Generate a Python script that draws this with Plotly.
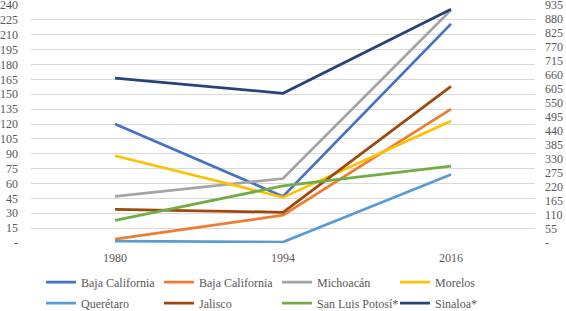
import plotly.graph_objects as go

years = ["1980", "1994", "2016"]

baja_california_1 = [120, 47, 221]
baja_california_2 = [4, 28, 135]
michoacan = [47, 65, 235]
morelos = [88, 46, 123]
queretaro = [2, 1, 69]
jalisco = [34, 31, 158]
san_luis_potosi = [89, 224, 302]   # secondary axis
sinaloa = [648, 588, 918]          # secondary axis

left_ticks = list(range(0, 241, 15))
right_ticks = list(range(0, 936, 55))

FONT = "Liberation Serif, Times New Roman, DejaVu Serif, serif"
TXT = "#595959"

series = [
    ("Baja California", baja_california_1, "#4472C4", "y", "legend"),
    ("Baja California", baja_california_2, "#ED7D31", "y", "legend"),
    ("Michoacán", michoacan, "#A5A5A5", "y", "legend"),
    ("Morelos", morelos, "#FFC000", "y", "legend"),
    ("Querétaro", queretaro, "#5B9BD5", "y", "legend2"),
    ("Jalisco", jalisco, "#9E480E", "y", "legend2"),
    ("San Luis Potosí*", san_luis_potosi, "#70AD47", "y2", "legend2"),
    ("Sinaloa*", sinaloa, "#264478", "y2", "legend2"),
]

fig = go.Figure()
for name, vals, col, ax, lg in series:
    fig.add_trace(go.Scatter(
        x=years, y=vals, name=name, mode="lines", yaxis=ax, legend=lg,
        line=dict(color=col, width=2.75),
    ))

W, H = 566, 311
legend_common = dict(
    orientation="h", xref="container", yref="container",
    entrywidth=73, entrywidthmode="pixels", itemwidth=30,
    font=dict(family=FONT, size=12, color=TXT),
    bgcolor="rgba(0,0,0,0)", tracegroupgap=0, xanchor="left", yanchor="middle",
)

tick_font = dict(family=FONT, size=12, color=TXT)

fig.update_layout(
    width=W, height=H,
    margin=dict(l=31, r=31, t=5, b=68, autoexpand=False),
    paper_bgcolor="white", plot_bgcolor="white",
    font=dict(family=FONT, size=12, color=TXT),
    showlegend=True,
    legend=dict(x=41 / W, y=1 - 282 / H, **legend_common),
    legend2=dict(x=41 / W, y=1 - 303 / H, **legend_common),
    xaxis=dict(
        type="category", range=[-0.5, 2.5], showgrid=False, zeroline=False,
        showline=False, ticks="", ticklabelstandoff=6, tickfont=tick_font,
    ),
    yaxis=dict(
        range=[0, 240], tickvals=left_ticks,
        ticktext=["-"] + [str(v) for v in left_ticks[1:]],
        showgrid=True, gridcolor="#D9D9D9", gridwidth=1, zeroline=False,
        showline=False, ticks="", ticklabelstandoff=12,
        ticklabeloverflow="allow", tickfont=tick_font,
    ),
    yaxis2=dict(
        range=[0, 935], overlaying="y", side="right", tickvals=right_ticks,
        ticktext=["-"] + [str(v) for v in right_ticks[1:]],
        showgrid=False, zeroline=False, showline=False, ticks="",
        ticklabelstandoff=9, ticklabeloverflow="allow", tickfont=tick_font,
    ),
)

fig.write_html(
    "out.html",
    config={"displayModeBar": False},
    post_script="document.body.style.margin='0';document.body.style.padding='0';",
)
